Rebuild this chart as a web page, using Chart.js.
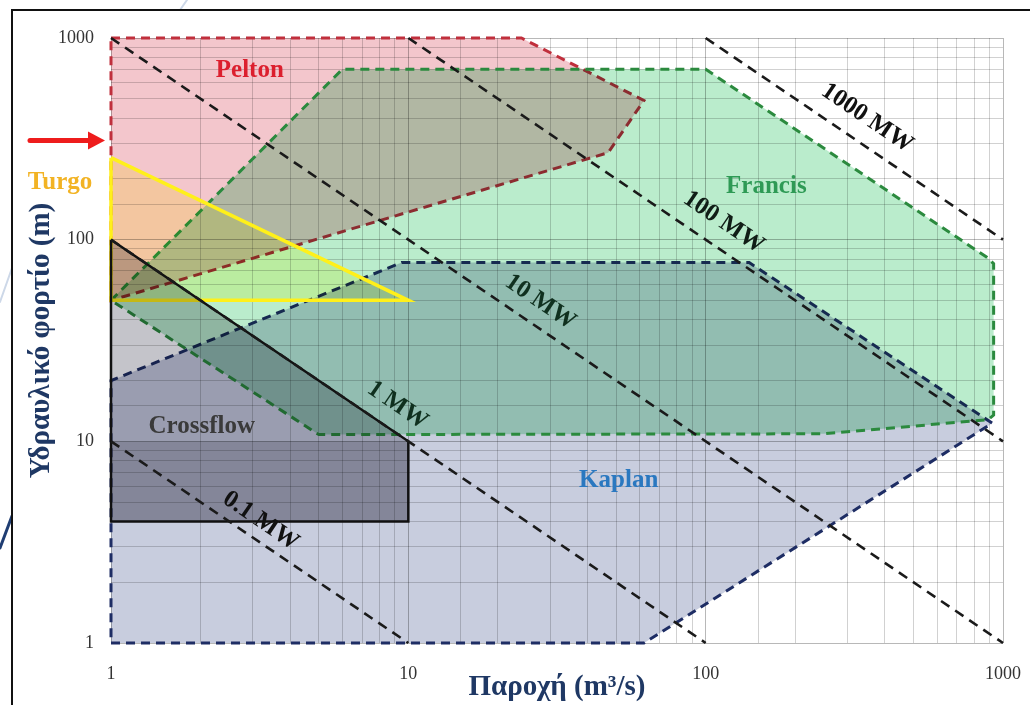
<!DOCTYPE html>
<html>
<head>
<meta charset="utf-8">
<script src="https://cdn.jsdelivr.net/npm/chart.js@4.4.1/dist/chart.umd.min.js"></script>
<style>
  html, body { margin: 0; padding: 0; background: #fff; }
  canvas { display: block; }
</style>
</head>
<body>
<canvas id="chart" width="1030" height="705"></canvas>
<script>
// Application ranges of hydro turbines: flow Q (m³/s) against head H (m), log–log.

// Turbine envelopes (closed polygons, first point repeated at the end)
const peltonQ    = [1, 24, 62, 47, 1, 1];
const peltonH    = [1000, 1000, 490, 270, 50, 1000];
const francisQ   = [1, 6, 100, 880, 930, 930, 890, 250, 5, 1];
const francisH   = [50, 700, 700, 82, 76, 13.5, 12.8, 10.9, 10.8, 50];
const kaplanQ    = [1, 62, 920, 140, 9.5, 1, 1];
const kaplanH    = [1, 1, 12.3, 77, 77, 20, 1];
const turgoQ     = [1, 10, 1, 1];
const turgoH     = [255, 50, 50, 255];
const crossflowQ = [1, 10, 10, 1, 1];
const crossflowH = [100, 10, 4, 4, 100];
const crossCoreQ = [1, 10, 10, 1, 1];
const crossCoreH = [10, 10, 4, 4, 10];

// Constant-power lines (end points on the plot frame)
const powerNames = ['0.1 MW', '1 MW', '10 MW', '100 MW', '1000 MW'];
const powerQ = [[1, 10], [1, 100], [1, 1000], [10, 1000], [100, 1000]];
const powerH = [[10, 1], [100, 1], [1000, 1], [1000, 10], [1000, 100]];

// Axis ticks
const tickValues = [1, 10, 100, 1000];
const tickLabels = ['1', '10', '100', '1000'];

// Region names and where they sit (Q, H)
const regionNames = ['Pelton', 'Turgo', 'Francis', 'Kaplan', 'Crossflow'];
const regionQ = [2.93, 0.674, 160, 51, 2.02];
const regionH = [693, 193, 184, 6.36, 11.8];

// Power-line label anchors (Q, H)
const powerLabelQ = [3.19, 9.2, 27.8, 115, 349];
const powerLabelH = [4.03, 15.1, 49, 122, 401];

const SERIF = '"Liberation Serif", "Times New Roman", serif';
const regionColors = ['#dc1f2e', '#f2b324', '#2e9a55', '#2a78c0', '#3a3a3a'];
const powerLabelColors = ['#111111', '#10301f', '#10301f', '#101d16', '#111111'];

const pts = (q, h) => q.map((v, i) => ({ x: v, y: h[i] }));
const isDecade = v => Math.abs(Math.log10(v) - Math.round(Math.log10(v))) < 1e-9;

function envelope(label, q, h, fillColor, lineColor, width, dash, order) {
  return {
    label, data: pts(q, h), showLine: true, fill: 'shape',
    backgroundColor: fillColor, borderColor: lineColor,
    borderWidth: width, borderDash: dash, pointRadius: 0,
    tension: 0, order, clip: false
  };
}

const datasets = [
  envelope('Kaplan', kaplanQ, kaplanH, 'rgb(200,205,222)', '#1e2d64', 3, [9, 6], 10),
  envelope('Pelton', peltonQ, peltonH, 'rgb(243,198,204)', '#c02f3c', 3, [9, 6], 9),
  envelope('Francis', francisQ, francisH, 'rgb(186,236,204)', '#2b8a3e', 3, [9, 6], 8),
  envelope('Turgo', turgoQ, turgoH, 'rgb(255,255,200)', '#fff01a', 3.5, [], 7),
  envelope('Crossflow', crossflowQ, crossflowH, 'rgb(196,196,202)', '#111111', 2.5, [], 6),
  envelope('Crossflow core', crossCoreQ, crossCoreH, 'rgb(218,218,222)', 'rgba(0,0,0,0)', 0, [], 5)
];
powerNames.forEach((name, i) => {
  datasets.push({
    label: name, data: pts(powerQ[i], powerH[i]), showLine: true, fill: false,
    borderColor: '#1a1a1a', borderWidth: 2.6, borderDash: [10, 7],
    pointRadius: 0, order: 1, clip: false
  });
});

// Fills are blended with "multiply" so overlapping ranges darken; outlines draw normally.
const blendPlugin = {
  id: 'blend',
  beforeDraw(chart) {
    const ctx = chart.ctx;
    ctx.save();
    ctx.fillStyle = '#ffffff';
    ctx.fillRect(0, 0, chart.width, chart.height);
    // slide decoration behind the frame
    ctx.lineCap = 'round';
    ctx.strokeStyle = '#cdd8e8';
    ctx.lineWidth = 2;
    ctx.beginPath(); ctx.moveTo(0, 302); ctx.lineTo(12, 268); ctx.stroke();
    ctx.beginPath(); ctx.moveTo(180, 10); ctx.lineTo(187, 0); ctx.stroke();
    ctx.strokeStyle = '#1f3d72';
    ctx.lineWidth = 3;
    ctx.beginPath(); ctx.moveTo(0, 548); ctx.lineTo(12, 516); ctx.stroke();
    // frame
    ctx.fillStyle = '#ffffff';
    ctx.fillRect(12, 10, chart.width - 12, chart.height - 10);
    ctx.strokeStyle = '#111';
    ctx.lineWidth = 2;
    ctx.beginPath();
    ctx.moveTo(12, chart.height + 2); ctx.lineTo(12, 10); ctx.lineTo(chart.width + 2, 10);
    ctx.stroke();
    ctx.restore();
  },
  beforeDatasetsDraw(chart) { chart.ctx.globalCompositeOperation = 'multiply'; },
  beforeDatasetDraw(chart) { chart.ctx.globalCompositeOperation = 'source-over'; },
  afterDatasetDraw(chart) { chart.ctx.globalCompositeOperation = 'multiply'; },
  afterDatasetsDraw(chart) {
    const ctx = chart.ctx;
    ctx.globalCompositeOperation = 'source-over';
    const xs = chart.scales.x, ys = chart.scales.y;
    ctx.save();
    ctx.textAlign = 'center';
    ctx.textBaseline = 'middle';
    ctx.font = 'bold 25px ' + SERIF;
    regionNames.forEach((t, i) => {
      ctx.fillStyle = regionColors[i];
      ctx.fillText(t, xs.getPixelForValue(regionQ[i]), ys.getPixelForValue(regionH[i]));
    });
    ctx.font = 'bold 25px ' + SERIF;
    powerNames.forEach((t, i) => {
      const x1 = xs.getPixelForValue(powerQ[i][0]), y1 = ys.getPixelForValue(powerH[i][0]);
      const x2 = xs.getPixelForValue(powerQ[i][1]), y2 = ys.getPixelForValue(powerH[i][1]);
      const ang = Math.atan2(y2 - y1, x2 - x1);
      ctx.save();
      ctx.translate(xs.getPixelForValue(powerLabelQ[i]), ys.getPixelForValue(powerLabelH[i]));
      ctx.rotate(ang);
      ctx.fillStyle = powerLabelColors[i];
      ctx.fillText(t, 0, 0);
      ctx.restore();
    });
    ctx.restore();
  },
  afterDraw(chart) {
    // red pointer on the head axis
    const ctx = chart.ctx;
    const tipX = chart.scales.x.getPixelForValue(1) - 6;
    const tipY = chart.scales.y.getPixelForValue(310);
    ctx.save();
    ctx.strokeStyle = '#ee1c1c';
    ctx.fillStyle = '#ee1c1c';
    ctx.lineWidth = 5;
    ctx.lineCap = 'round';
    ctx.beginPath(); ctx.moveTo(tipX - 75, tipY); ctx.lineTo(tipX - 14, tipY); ctx.stroke();
    ctx.beginPath();
    ctx.moveTo(tipX, tipY); ctx.lineTo(tipX - 17, tipY - 9); ctx.lineTo(tipX - 17, tipY + 9);
    ctx.closePath(); ctx.fill();
    ctx.restore();
  }
};

const gridColor = ctx => {
  const v = ctx.tick && ctx.tick.value;
  return v && isDecade(v) ? 'rgba(0,0,0,0.28)' : 'rgba(0,0,0,0.18)';
};
const tickCallback = v => {
  const k = tickValues.findIndex(t => Math.abs(t - v) < 1e-9);
  return k >= 0 ? tickLabels[k] : '';
};

new Chart(document.getElementById('chart'), {
  type: 'scatter',
  data: { datasets },
  options: {
    responsive: false,
    animation: false,
    devicePixelRatio: 1,
    layout: { padding: { left: 0, top: 38, right: 27, bottom: 0 } },
    plugins: { legend: { display: false }, tooltip: { enabled: false } },
    scales: {
      x: {
        type: 'logarithmic', min: 1, max: 1000, position: 'bottom',
        grid: { color: gridColor, lineWidth: 1, drawTicks: false },
        border: { display: false },
        ticks: {
          autoSkip: false, maxRotation: 0, padding: 20, color: '#333',
          font: { family: SERIF, size: 18 }, callback: tickCallback
        },
        title: {
          display: true, text: 'Παροχή (m³/s)', color: '#1f3864',
          font: { family: SERIF, size: 29, weight: 'bold' }, padding: { top: 0, bottom: 0 }
        },
        afterFit: s => { s.height = 62; s.paddingLeft = 0; s.paddingRight = 0; }
      },
      y: {
        type: 'logarithmic', min: 1, max: 1000, position: 'left',
        grid: { color: gridColor, lineWidth: 1, drawTicks: false },
        border: { display: false },
        ticks: {
          autoSkip: false, padding: 17, color: '#333',
          font: { family: SERIF, size: 18 }, callback: tickCallback
        },
        title: {
          display: true, text: 'Υδραυλικό φορτίο (m)', color: '#1f3864',
          font: { family: SERIF, size: 29, weight: 'bold' }, padding: { top: 24, bottom: 0 }
        },
        afterFit: s => { s.width = 111; s.paddingTop = 0; s.paddingBottom = 0; }
      }
    }
  },
  plugins: [blendPlugin]
});
</script>
</body>
</html>
